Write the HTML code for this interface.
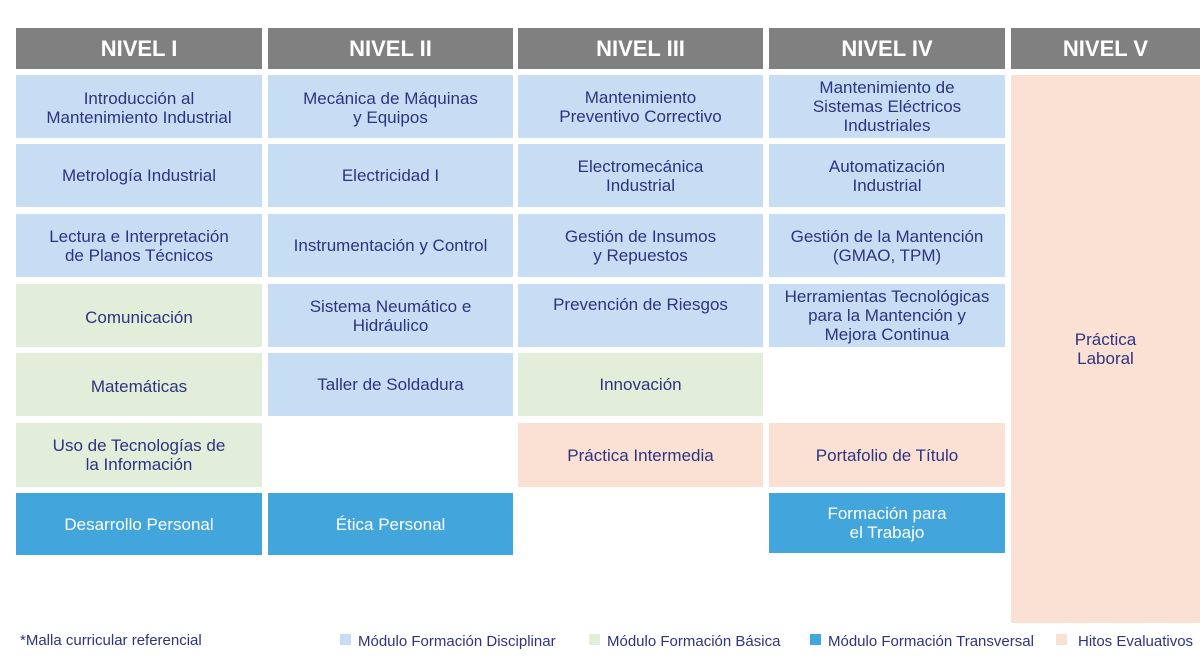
<!DOCTYPE html>
<html><head><meta charset="utf-8"><style>
body{margin:0;width:1200px;height:664px;background:#fff;position:relative;overflow:hidden;font-family:"Liberation Sans","DejaVu Sans",sans-serif}
.c{position:absolute;display:flex;align-items:center;justify-content:center;text-align:center;font-size:17px;line-height:19px;color:#2e3380}
.h{background:#808080;color:#fff;font-weight:bold;font-size:22px;top:28px;height:41px}
.b{background:#c6ddf3}.g{background:#e2eed9}.t{background:#42a5dc;color:#fff}.p{background:#fbe1d4}
.l{position:absolute;top:633px;font-size:15px;color:#2e3380;white-space:nowrap}
.sq{position:absolute;top:634px;width:11px;height:11px}
</style></head><body>
<div class="c h" style="left:16px;width:246px">NIVEL I</div>
<div class="c h" style="left:268px;width:245px">NIVEL II</div>
<div class="c h" style="left:518px;width:245px">NIVEL III</div>
<div class="c h" style="left:769px;width:236px">NIVEL IV</div>
<div class="c h" style="left:1011px;width:189px">NIVEL V</div>

<div class="c b" style="left:16px;top:75px;width:246px;height:63px;padding-top:3px;box-sizing:border-box">Introducción al<br>Mantenimiento Industrial</div>
<div class="c b" style="left:16px;top:144px;width:246px;height:63px">Metrología Industrial</div>
<div class="c b" style="left:16px;top:214px;width:246px;height:63px">Lectura e Interpretación<br>de Planos Técnicos</div>
<div class="c g" style="left:16px;top:284px;width:246px;height:63px;padding-top:4px;box-sizing:border-box">Comunicación</div>
<div class="c g" style="left:16px;top:353px;width:246px;height:63px;padding-top:4px;box-sizing:border-box">Matemáticas</div>
<div class="c g" style="left:16px;top:423px;width:246px;height:64px">Uso de Tecnologías de<br>la Información</div>
<div class="c t" style="left:16px;top:493px;width:246px;height:62px">Desarrollo Personal</div>

<div class="c b" style="left:268px;top:75px;width:245px;height:63px;padding-top:3px;box-sizing:border-box">Mecánica de Máquinas<br>y Equipos</div>
<div class="c b" style="left:268px;top:144px;width:245px;height:63px">Electricidad I</div>
<div class="c b" style="left:268px;top:214px;width:245px;height:63px">Instrumentación y Control</div>
<div class="c b" style="left:268px;top:284px;width:245px;height:63px">Sistema Neumático e<br>Hidráulico</div>
<div class="c b" style="left:268px;top:353px;width:245px;height:63px">Taller de Soldadura</div>
<div class="c t" style="left:268px;top:493px;width:245px;height:62px">Ética Personal</div>

<div class="c b" style="left:518px;top:75px;width:245px;height:63px">Mantenimiento<br>Preventivo Correctivo</div>
<div class="c b" style="left:518px;top:144px;width:245px;height:63px">Electromecánica<br>Industrial</div>
<div class="c b" style="left:518px;top:214px;width:245px;height:63px">Gestión de Insumos<br>y Repuestos</div>
<div class="c b" style="left:518px;top:284px;width:245px;height:63px;align-items:flex-start"><span style="margin-top:11px">Prevención de Riesgos</span></div>
<div class="c g" style="left:518px;top:353px;width:245px;height:63px">Innovación</div>
<div class="c p" style="left:518px;top:423px;width:245px;height:64px">Práctica Intermedia</div>

<div class="c b" style="left:769px;top:75px;width:236px;height:63px">Mantenimiento de<br>Sistemas Eléctricos<br>Industriales</div>
<div class="c b" style="left:769px;top:144px;width:236px;height:63px">Automatización<br>Industrial</div>
<div class="c b" style="left:769px;top:214px;width:236px;height:63px">Gestión de la Mantención<br>(GMAO, TPM)</div>
<div class="c b" style="left:769px;top:284px;width:236px;height:63px">Herramientas Tecnológicas<br>para la Mantención y<br>Mejora Continua</div>
<div class="c p" style="left:769px;top:423px;width:236px;height:64px">Portafolio de Título</div>
<div class="c t" style="left:769px;top:493px;width:236px;height:60px">Formación para<br>el Trabajo</div>

<div class="c p" style="left:1011px;top:75px;width:189px;height:548px">Práctica<br>Laboral</div>

<div class="l" style="left:20px;top:632px">*Malla curricular referencial</div>
<div class="sq b" style="left:340px"></div><div class="l" style="left:358px">Módulo Formación Disciplinar</div>
<div class="sq g" style="left:589px"></div><div class="l" style="left:607px">Módulo Formación Básica</div>
<div class="sq t" style="left:810px"></div><div class="l" style="left:828px">Módulo Formación Transversal</div>
<div class="sq p" style="left:1056px"></div><div class="l" style="left:1078px">Hitos Evaluativos</div>
</body></html>
